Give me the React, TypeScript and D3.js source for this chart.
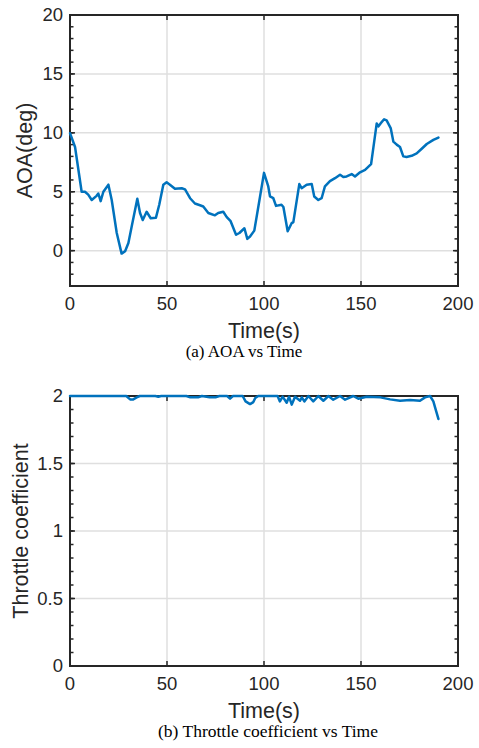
import React from "react";
import * as d3 from "d3";

const aoaTime = [0, 2.6, 6, 7.7, 9.4, 11.2, 13.7, 14.6, 15.8, 17.2, 19.8, 21.5, 24.1, 26.6, 28.4, 30.1, 31.8, 34.7, 36.1, 37.5, 39.5, 41.6, 44.3, 46, 48.1, 49.8, 51.5, 54.1, 57.6, 59.3, 61.9, 64.4, 67, 68.7, 71.3, 74.7, 76.4, 79, 80.8, 82.8, 85.6, 87.3, 89.9, 91.4, 92.8, 95, 97.1, 100, 102.2, 103.1, 104.8, 106.2, 109, 110, 112.2, 114.3, 115.1, 118.2, 119.4, 122, 124.6, 125.9, 128, 129.7, 131.4, 134, 136.6, 139.2, 140.9, 142.6, 145.2, 146.9, 149.5, 152.1, 155.2, 158.1, 159, 160.1, 161.9, 163.2, 165.3, 166.7, 168.4, 170.1, 171.8, 173.5, 176.1, 178.7, 181.3, 183.9, 187.3, 189.9];
const aoaValue = [9.97, 8.8, 5.0, 5.0, 4.75, 4.3, 4.65, 4.85, 4.2, 5.0, 5.6, 4.3, 1.5, -0.25, -0.05, 0.65, 2.05, 4.4, 3.2, 2.6, 3.3, 2.75, 2.8, 3.9, 5.6, 5.8, 5.6, 5.25, 5.3, 5.2, 4.45, 4.0, 3.85, 3.75, 3.2, 3.0, 3.2, 3.3, 2.85, 2.5, 1.35, 1.5, 1.9, 1.0, 1.2, 1.7, 3.75, 6.6, 5.45, 4.6, 4.45, 3.8, 3.9, 3.7, 1.65, 2.35, 2.4, 5.65, 5.3, 5.6, 5.65, 4.6, 4.3, 4.45, 5.45, 5.9, 6.15, 6.45, 6.25, 6.3, 6.5, 6.3, 6.65, 6.85, 7.35, 10.8, 10.55, 10.8, 11.15, 11.05, 10.4, 9.25, 9.0, 8.8, 8.0, 7.95, 8.05, 8.25, 8.65, 9.05, 9.4, 9.6];

const throttleTime = [0, 15, 29, 31, 32.6, 34.4, 36, 44, 45.5, 47, 60, 62, 66, 68, 72, 75, 77, 81, 82.5, 84, 89, 90.5, 92.8, 94.5, 95.5, 97, 107, 108.2, 109.6, 111.7, 112.9, 114.3, 116, 118.6, 119.5, 120.8, 122.9, 125.4, 128, 130.6, 133.2, 135.7, 139.2, 141.8, 146, 148.6, 152.9, 160, 165, 170.1, 175.3, 180.4, 183, 185.6, 187.3, 188.7, 189.9];
const throttleValue = [2.0, 2.0, 2.0, 1.975, 1.975, 1.99, 2.0, 2.0, 1.995, 2.0, 2.0, 1.99, 1.99, 2.0, 1.99, 1.99, 2.0, 2.0, 1.98, 2.0, 2.0, 1.96, 1.94, 1.955, 1.985, 2.0, 2.0, 1.96, 1.995, 1.95, 1.995, 1.936, 1.995, 1.965, 1.99, 1.96, 2.0, 1.96, 2.0, 1.965, 2.0, 1.973, 2.0, 1.973, 2.0, 1.98, 1.995, 1.99, 1.975, 1.965, 1.97, 1.965, 1.99, 2.0, 1.96, 1.89, 1.83];

const xTicks = [0, 50, 100, 150, 200];
const aoaTicks = [0, 5, 10, 15, 20];
const throttleTicks = [0, 0.5, 1, 1.5, 2];

const AXIS = "#262626";
const GRID = "#dfdfdf";
const LINE = "#0072BD";
const SANS = "Arial, 'Liberation Sans', Helvetica, sans-serif";
const SERIF = "'Times New Roman', 'Liberation Serif', serif";

type PanelProps = {
  top: number;
  bottom: number;
  yDomain: [number, number];
  yTicks: number[];
  minorStep: number;
  times: number[];
  values: number[];
  yLabel: string;
  yLabelX: number;
  caption: string;
  captionX: number;
  captionSize: number;
};

function Panel(p: PanelProps) {
  const left = 70;
  const right = 458;
  const x = d3.scaleLinear().domain([0, 200]).range([left, right]);
  const y = d3.scaleLinear().domain(p.yDomain).range([p.bottom, p.top]);
  const minor = d3
    .range(Math.ceil(p.yDomain[0] / p.minorStep), Math.floor(p.yDomain[1] / p.minorStep) + 1)
    .map((k) => +(k * p.minorStep).toFixed(6));
  const pts = p.times.map((t, i) => [t, p.values[i]] as [number, number]);
  const path = d3
    .line<[number, number]>()
    .x((d) => x(d[0]))
    .y((d) => y(d[1]))(pts) as string;
  const tl = 5;
  const ml = 3.5;
  return (
    <g>
      {xTicks.slice(1, -1).map((t) => (
        <line key={"gx" + t} x1={x(t)} x2={x(t)} y1={p.top} y2={p.bottom} stroke={GRID} strokeWidth={1.5} />
      ))}
      {p.yTicks
        .filter((v) => v > p.yDomain[0] && v < p.yDomain[1])
        .map((v) => (
          <line key={"gy" + v} x1={left} x2={right} y1={y(v)} y2={y(v)} stroke={GRID} strokeWidth={1.5} />
        ))}
      {minor.map((v) => (
        <g key={"m" + v}>
          <line x1={left} x2={left + ml} y1={y(v)} y2={y(v)} stroke={AXIS} strokeWidth={1.5} />
          <line x1={right} x2={right - ml} y1={y(v)} y2={y(v)} stroke={AXIS} strokeWidth={1.5} />
        </g>
      ))}
      {p.yTicks.map((v) => (
        <g key={"t" + v}>
          <line x1={left} x2={left + tl} y1={y(v)} y2={y(v)} stroke={AXIS} strokeWidth={1.5} />
          <line x1={right} x2={right - tl} y1={y(v)} y2={y(v)} stroke={AXIS} strokeWidth={1.5} />
          <text x={63} y={y(v)} dy="0.35em" textAnchor="end" fontFamily={SANS} fontSize={18.5} fill={AXIS}>
            {String(v)}
          </text>
        </g>
      ))}
      {xTicks.map((t) => (
        <g key={"xt" + t}>
          <line x1={x(t)} x2={x(t)} y1={p.bottom} y2={p.bottom - tl} stroke={AXIS} strokeWidth={1.5} />
          <line x1={x(t)} x2={x(t)} y1={p.top} y2={p.top + tl} stroke={AXIS} strokeWidth={1.5} />
          <text x={x(t)} y={p.bottom + 24} textAnchor="middle" fontFamily={SANS} fontSize={18.5} fill={AXIS}>
            {t}
          </text>
        </g>
      ))}
      <rect x={left} y={p.top} width={right - left} height={p.bottom - p.top} fill="none" stroke={AXIS} strokeWidth={2} />
      <path d={path} fill="none" stroke={LINE} strokeWidth={2.5} strokeLinejoin="round" strokeLinecap="round" />
      <text x={(left + right) / 2} y={p.bottom + 52} textAnchor="middle" fontFamily={SANS} fontSize={21.5} fill={AXIS}>
        Time(s)
      </text>
      <text
        transform={`translate(${p.yLabelX},${(p.top + p.bottom) / 2}) rotate(-90)`}
        textAnchor="middle"
        fontFamily={SANS}
        fontSize={21.5}
        fill={AXIS}
      >
        {p.yLabel}
      </text>
      <text x={p.captionX} y={p.bottom + 71} textAnchor="middle" fontFamily={SERIF} fontSize={p.captionSize} fill="#000">
        {p.caption}
      </text>
    </g>
  );
}

export default function App() {
  return (
    <svg width={479} height={748} style={{ position: "absolute", left: 0, top: 0, background: "#fff" }}>
      <rect width={479} height={748} fill="#fff" />
      <Panel
        top={15}
        bottom={286}
        yDomain={[-3, 20]}
        yTicks={aoaTicks}
        minorStep={1}
        times={aoaTime}
        values={aoaValue}
        yLabel="AOA(deg)"
        yLabelX={32}
        caption="(a) AOA vs Time"
        captionX={244}
        captionSize={17}
      />
      <Panel
        top={396}
        bottom={666}
        yDomain={[0, 2]}
        yTicks={throttleTicks}
        minorStep={0.1}
        times={throttleTime}
        values={throttleValue}
        yLabel="Throttle coefficient"
        yLabelX={28}
        caption="(b) Throttle coefficient vs Time"
        captionX={268}
        captionSize={17.5}
      />
    </svg>
  );
}
